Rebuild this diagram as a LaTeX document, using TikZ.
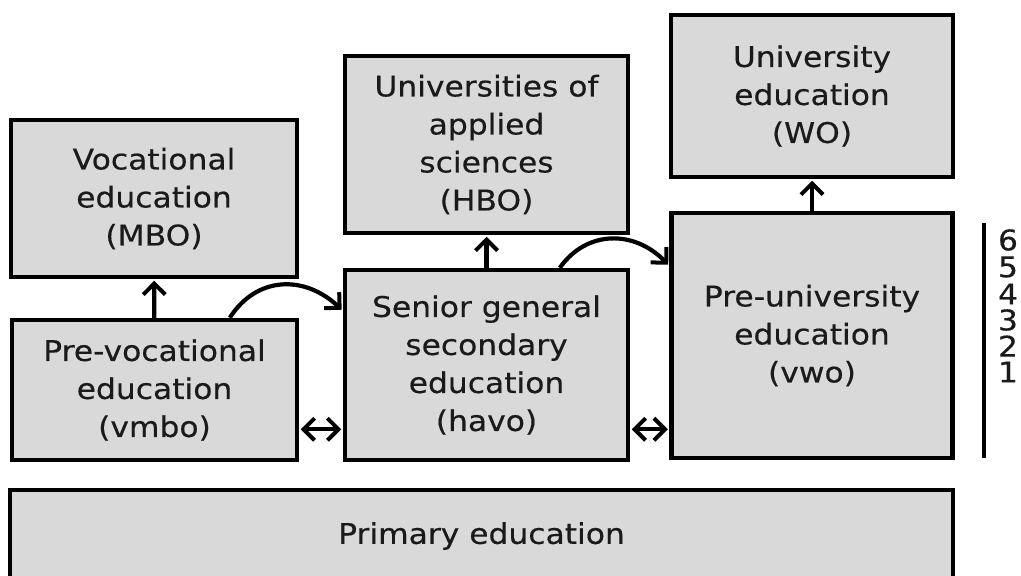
\documentclass[tikz,border=0pt]{standalone}
\usepackage{fontspec}
\newfontfamily\boxfont[FakeStretch=1.1,FakeBold=0.4]{DejaVu Sans}
\usetikzlibrary{arrows.meta,calc}
\definecolor{boxgray}{HTML}{D9D9D9}
\definecolor{txt}{HTML}{1A1A1A}
\tikzset{
  barb/.tip={Straight Barb[length=11pt,width=22pt,line width=4pt]},
  edbox/.style={draw=black, line width=4.5pt, fill=boxgray, align=center,
    inner sep=0pt, text=txt, font=\boxfont\fontsize{28.5}{38}\selectfont},
  conn/.style={line width=4.2pt, -barb, shorten >=1.5pt},
  dconn/.style={line width=4.2pt, barb-barb, shorten >=1.5pt, shorten <=1.5pt},
  num/.style={text=txt, inner sep=0pt, font=\boxfont\fontsize{28.5}{30}\selectfont}
}
\begin{document}
\begin{tikzpicture}[x=1pt,y=-1pt]
\useasboundingbox (0,0) rectangle (1021,576);
\clip (0,0) rectangle (1021,576);
\fill[white] (0,0) rectangle (1021,576);

\node[edbox, minimum width=286pt, minimum height=157pt] (mbo) at (154,198.5) {Vocational\\education\\(MBO)};
\node[edbox, minimum width=285pt, minimum height=140pt] (vmbo) at (154.5,390) {Pre-vocational\\education\\(vmbo)};
\node[edbox, minimum width=283pt, minimum height=177pt] (hbo) at (486.5,144.5) {Universities of\\applied\\sciences\\(HBO)};
\node[edbox, minimum width=283pt, minimum height=190pt] (havo) at (486.5,365) {Senior general\\secondary\\education\\(havo)};
\node[edbox, minimum width=282pt, minimum height=162pt] (wo) at (812,96) {University\\education\\(WO)};
\node[edbox, minimum width=281pt, minimum height=245pt] (vwo) at (812,335.5) {Pre-university\\education\\(vwo)};
\node[edbox, minimum width=943pt, minimum height=92pt] (prim) at (481.5,536) {Primary education};

% vertical arrows
\draw[conn] (vmbo) -- (mbo);
\draw[conn] (havo) -- (hbo);
\draw[conn] (vwo) -- (wo);

% curved arrows
\coordinate (c1s) at ($(vmbo.north west)!0.76!(vmbo.north east)$);
\coordinate (c1e) at ($(havo.north west)+(0,43)$);
\draw[conn] (c1s) .. controls ($(c1s)+(27,-42)$) and ($(c1e)+(-38,-36)$) .. (c1e);
\coordinate (c2s) at ($(havo.north west)!0.755!(havo.north east)$);
\coordinate (c2e) at ($(vwo.north west)+(0,55)$);
\draw[conn] (c2s) .. controls ($(c2s)+(27,-38)$) and ($(c2e)+(-35,-36)$) .. (c2e);

% double arrows
\draw[dconn] ($(vmbo.south east)+(0,-33)$) -- ($(havo.south west)+(0,-33)$);
\draw[dconn] ($(havo.south east)+(0,-33)$) -- ($(vwo.south west)+(0,-31)$);

% year scale
\coordinate (st) at (984,223);
\coordinate (sb) at (984,458);
\draw[line width=3.5pt] (st) -- (sb);
\node[num] (n6) at (1008,240) {6};
\node[num] (n5) at (1008,267) {5};
\node[num] (n4) at (1008,294) {4};
\node[num] (n3) at (1008,320) {3};
\node[num] (n2) at (1008,346) {2};
\node[num] (n1) at (1008,372) {1};
\end{tikzpicture}
\end{document}
